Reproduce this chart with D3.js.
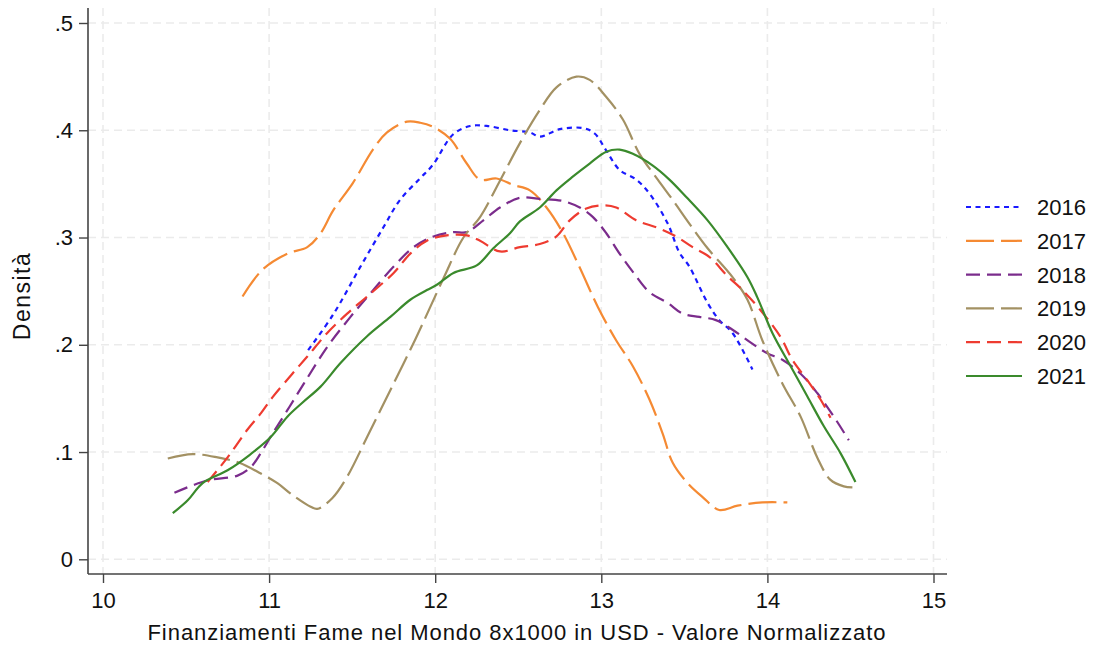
<!DOCTYPE html>
<html>
<head>
<meta charset="utf-8">
<script src="https://cdn.jsdelivr.net/npm/d3@7"></script>
<style>
  body { margin: 0; background: #fff; }
  text { font-family: "Liberation Sans", Arial, Helvetica, sans-serif; fill: #111; }
</style>
</head>
<body>
<svg id="chart" width="1093" height="645"></svg>
<script>
// tick values
const xTicks = [10, 11, 12, 13, 14, 15];
const yTicks = [0, 0.1, 0.2, 0.3, 0.4, 0.5];
const yTickLabels = ['0', '.1', '.2', '.3', '.4', '.5'];

// density estimates: [x, density]
const d2016 = [[11.235, 0.195], [11.385, 0.228], [11.547, 0.272], [11.69, 0.310], [11.788, 0.335], [11.908, 0.355],
  [11.987, 0.368], [12.107, 0.396], [12.21, 0.404], [12.31, 0.404], [12.45, 0.400], [12.57, 0.398], [12.63, 0.394],
  [12.75, 0.401], [12.89, 0.402], [12.96, 0.397], [13.03, 0.381], [13.11, 0.363], [13.21, 0.354], [13.29, 0.341],
  [13.40, 0.313], [13.47, 0.286], [13.53, 0.273], [13.64, 0.239], [13.71, 0.223], [13.79, 0.211], [13.91, 0.177]];
const d2017 = [[10.84, 0.245], [10.96, 0.270], [11.11, 0.285], [11.23, 0.291], [11.31, 0.304], [11.385, 0.325],
  [11.505, 0.351], [11.625, 0.382], [11.71, 0.398], [11.83, 0.408], [11.91, 0.407], [11.99, 0.403], [12.09, 0.392],
  [12.19, 0.369], [12.27, 0.354], [12.37, 0.355], [12.47, 0.349], [12.57, 0.344], [12.67, 0.328], [12.77, 0.304],
  [12.87, 0.272], [12.98, 0.235], [13.09, 0.204], [13.19, 0.180], [13.29, 0.149], [13.37, 0.117], [13.43, 0.090],
  [13.52, 0.071], [13.61, 0.058], [13.71, 0.046], [13.82, 0.050], [13.97, 0.053], [14.12, 0.053]];
const d2018 = [[10.43, 0.062], [10.54, 0.069], [10.64, 0.074], [10.81, 0.078], [10.89, 0.086], [10.95, 0.099],
  [11.02, 0.117], [11.11, 0.139], [11.21, 0.164], [11.35, 0.198], [11.49, 0.226], [11.61, 0.248], [11.75, 0.273],
  [11.87, 0.291], [11.99, 0.301], [12.11, 0.305], [12.19, 0.305], [12.29, 0.316], [12.39, 0.328], [12.51, 0.337],
  [12.63, 0.336], [12.77, 0.334], [12.87, 0.328], [12.95, 0.319], [13.03, 0.304], [13.11, 0.285], [13.19, 0.268],
  [13.29, 0.249], [13.40, 0.239], [13.49, 0.229], [13.59, 0.226], [13.69, 0.223], [13.79, 0.214], [13.90, 0.202],
  [14.00, 0.192], [14.09, 0.186], [14.20, 0.173], [14.30, 0.155], [14.40, 0.133], [14.49, 0.111]];
const d2019 = [[10.39, 0.094], [10.54, 0.098], [10.69, 0.095], [10.82, 0.090], [10.95, 0.080], [11.05, 0.071],
  [11.14, 0.060], [11.25, 0.049], [11.29, 0.047], [11.38, 0.057], [11.47, 0.077], [11.59, 0.114], [11.75, 0.164],
  [11.88, 0.205], [12.05, 0.262], [12.17, 0.300], [12.27, 0.319], [12.39, 0.353], [12.51, 0.388], [12.63, 0.419],
  [12.73, 0.440], [12.85, 0.450], [12.93, 0.447], [13.03, 0.431], [13.13, 0.410], [13.23, 0.378], [13.34, 0.354],
  [13.43, 0.335], [13.53, 0.313], [13.64, 0.290], [13.79, 0.263], [13.88, 0.242], [13.97, 0.204], [14.09, 0.164],
  [14.20, 0.133], [14.30, 0.095], [14.38, 0.074], [14.46, 0.068], [14.52, 0.067]];
const d2020 = [[10.63, 0.072], [10.75, 0.095], [10.87, 0.121], [10.95, 0.136], [11.02, 0.151], [11.14, 0.173],
  [11.23, 0.189], [11.35, 0.211], [11.47, 0.229], [11.59, 0.245], [11.75, 0.267], [11.85, 0.285], [11.95, 0.297],
  [12.07, 0.302], [12.19, 0.302], [12.27, 0.297], [12.39, 0.287], [12.51, 0.291], [12.63, 0.294], [12.73, 0.301],
  [12.81, 0.316], [12.91, 0.327], [13.01, 0.330], [13.09, 0.328], [13.21, 0.316], [13.34, 0.309], [13.45, 0.301],
  [13.55, 0.291], [13.65, 0.282], [13.76, 0.264], [13.85, 0.251], [13.96, 0.232], [14.08, 0.207], [14.15, 0.186],
  [14.24, 0.167], [14.32, 0.149], [14.38, 0.132]];
const d2021 = [[10.42, 0.043], [10.51, 0.055], [10.60, 0.071], [10.75, 0.083], [10.88, 0.097], [11.01, 0.114],
  [11.11, 0.133], [11.20, 0.146], [11.31, 0.161], [11.43, 0.183], [11.59, 0.208], [11.73, 0.226], [11.85, 0.242],
  [11.95, 0.251], [12.01, 0.256], [12.11, 0.267], [12.25, 0.274], [12.35, 0.290], [12.45, 0.304], [12.51, 0.315],
  [12.63, 0.328], [12.73, 0.344], [12.83, 0.357], [12.93, 0.369], [13.03, 0.380], [13.11, 0.382], [13.19, 0.378],
  [13.31, 0.367], [13.41, 0.354], [13.51, 0.338], [13.64, 0.316], [13.76, 0.291], [13.88, 0.263], [13.94, 0.244],
  [14.03, 0.211], [14.14, 0.180], [14.24, 0.152], [14.34, 0.124], [14.44, 0.099], [14.53, 0.072]];

const years = ['2016', '2017', '2018', '2019', '2020', '2021'];
const seriesData = [d2016, d2017, d2018, d2019, d2020, d2021];
const colors = ['#1a1aff', '#f58a33', '#7b2c8c', '#a39163', '#ee3b30', '#3a8a2c'];
const dashes = ['5,4.5', '28,7', '14,7', '28,7', '14,7', null];

const svg = d3.select('#chart');

// plot frame in pixels
const plotLeft = 88, plotRight = 947, plotTop = 8, plotBottom = 574;

const xScale = d3.scaleLinear().domain([10, 15]).range([103, 933.5]);
const yScale = d3.scaleLinear().domain([0, 0.5]).range([559.3, 23]);

// grid
const grid = svg.append('g').attr('class', 'grid');
grid.selectAll('.gx')
  .data(xTicks)
  .enter()
  .append('line')
  .attr('x1', d => xScale(d)).attr('x2', d => xScale(d))
  .attr('y1', plotTop).attr('y2', plotBottom)
  .style('stroke', '#ebebeb')
  .style('stroke-width', '1.6px')
  .style('stroke-dasharray', '8,5');
grid.selectAll('.gy')
  .data(yTicks)
  .enter()
  .append('line')
  .attr('x1', plotLeft).attr('x2', plotRight)
  .attr('y1', d => yScale(d)).attr('y2', d => yScale(d))
  .style('stroke', '#ebebeb')
  .style('stroke-width', '1.6px')
  .style('stroke-dasharray', '8,5');

// axes
const xAxis = svg.append('g')
  .attr('transform', `translate(0,${plotBottom})`)
  .call(d3.axisBottom(xScale).tickValues(xTicks).tickSize(9).tickPadding(9).tickFormat(d3.format('d')));
const yAxis = svg.append('g')
  .attr('transform', `translate(${plotLeft},0)`)
  .call(d3.axisLeft(yScale).tickValues(yTicks).tickSize(9).tickPadding(6).tickFormat((d, i) => yTickLabels[i]));

[xAxis, yAxis].forEach(a => {
  a.select('.domain').remove();
  a.selectAll('line').style('stroke', '#444').style('stroke-width', '1.4px');
  a.selectAll('text').style('font-size', '22px').style('font-family', '"Liberation Sans", Arial, sans-serif').style('fill', '#111');
});

svg.append('line')
  .attr('x1', plotLeft).attr('x2', plotRight).attr('y1', plotBottom).attr('y2', plotBottom)
  .style('stroke', '#444').style('stroke-width', '1.6px');
svg.append('line')
  .attr('x1', plotLeft).attr('x2', plotLeft).attr('y1', plotTop).attr('y2', plotBottom)
  .style('stroke', '#444').style('stroke-width', '1.6px');

// axis titles
svg.append('text')
  .attr('x', 517).attr('y', 640)
  .attr('text-anchor', 'middle')
  .style('font-size', '22px')
  .style('letter-spacing', '0.95px')
  .text('Finanziamenti Fame nel Mondo 8x1000 in USD - Valore Normalizzato');
svg.append('text')
  .attr('transform', 'translate(30,296) rotate(-90)')
  .attr('text-anchor', 'middle')
  .style('font-size', '23px')
  .style('letter-spacing', '1.5px')
  .text('Densità');

// density lines
const line = d3.line()
  .x(d => xScale(d[0]))
  .y(d => yScale(d[1]))
  .curve(d3.curveCatmullRom);

svg.append('g')
  .selectAll('path')
  .data(seriesData)
  .enter()
  .append('path')
  .attr('d', line)
  .style('fill', 'none')
  .style('stroke', (_, i) => colors[i])
  .style('stroke-width', '2.2px')
  .style('stroke-dasharray', (_, i) => dashes[i]);

// legend
const legend = svg.append('g').attr('class', 'legend');
const rowY = d3.scaleLinear().domain([0, 5]).range([207, 376]);
const item = legend.selectAll('g')
  .data(years)
  .enter()
  .append('g')
  .attr('transform', (_, i) => `translate(0,${rowY(i)})`);
item.append('line')
  .attr('x1', 966).attr('x2', 1022)
  .style('stroke', (_, i) => colors[i])
  .style('stroke-width', '2.2px')
  .style('stroke-dasharray', (_, i) => dashes[i]);
item.append('text')
  .attr('x', 1037).attr('dy', '0.36em')
  .style('font-size', '22px')
  .text(d => d);
</script>
</body>
</html>
